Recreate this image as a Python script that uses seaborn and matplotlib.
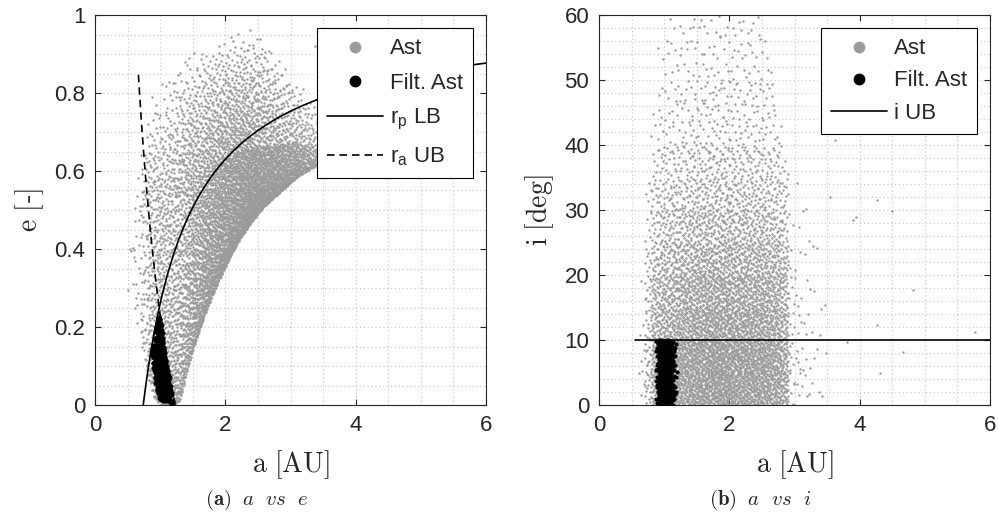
import numpy as np
import pandas as pd
import matplotlib
matplotlib.use("Agg")
import matplotlib.pyplot as plt
from matplotlib.lines import Line2D
from matplotlib.ticker import MultipleLocator, FuncFormatter
import seaborn as sns

# ---------------- a-e plane: asteroid cloud, described per a-slice ----------------
# band edges (eccentricity) at each a knot; counts of asteroids per slice
AE_KNOTS = [0.5, 0.6, 0.7, 0.8, 0.9, 1.0, 1.1, 1.2, 1.3, 1.4, 1.5, 1.6, 1.7, 1.8, 1.9,
            2.0, 2.1, 2.2, 2.3, 2.4, 2.5, 2.6, 2.7, 2.8, 2.9, 3.0, 3.1, 3.2, 3.3, 3.4,
            3.5, 3.6, 3.7, 3.8]
AE_LO = [0.30, 0.25, 0.17, 0.08, 0.02, 0.00, 0.00, 0.00, 0.01, 0.08, 0.14, 0.19, 0.24,
         0.28, 0.32, 0.355, 0.39, 0.42, 0.445, 0.47, 0.49, 0.51, 0.525, 0.54, 0.555,
         0.57, 0.585, 0.595, 0.605, 0.615, 0.63, 0.645, 0.66, 0.68]
AE_MID = [0.30, 0.40, 0.48, 0.52, 0.52, 0.50, 0.50, 0.52, 0.55, 0.57, 0.58, 0.59, 0.60,
          0.61, 0.62, 0.63, 0.64, 0.65, 0.655, 0.66, 0.66, 0.665, 0.665, 0.67, 0.67,
          0.67, 0.67, 0.67, 0.67, 0.67, 0.68, 0.69, 0.70, 0.72]
AE_HI = [0.40, 0.58, 0.68, 0.76, 0.81, 0.84, 0.87, 0.89, 0.90, 0.91, 0.92, 0.93, 0.935,
         0.94, 0.95, 0.955, 0.96, 0.965, 0.97, 0.97, 0.97, 0.96, 0.93, 0.90, 0.88, 0.86,
         0.84, 0.82, 0.80, 0.79, 0.78, 0.76, 0.75, 0.74]
AE_N_CORE = [2, 10, 45, 110, 150, 160, 170, 190, 210, 230, 250, 260, 270, 270, 270, 265,
             255, 245, 230, 215, 195, 175, 155, 135, 115, 95, 75, 55, 40, 22, 8, 3, 1]
AE_N_HALO = [3, 8, 18, 30, 38, 42, 48, 52, 58, 62, 66, 70, 74, 78, 80, 82, 82, 80, 78,
             74, 68, 60, 52, 45, 38, 32, 26, 20, 15, 10, 6, 3, 2]
AE_EXTRA_A = [3.38, 3.44, 0.58, 0.62]
AE_EXTRA_E = [0.92, 0.905, 0.31, 0.37]

# filtered asteroids (a-e plane)
FILT_KNOTS = [0.87, 0.91, 0.95, 1.00, 1.05, 1.10, 1.15, 1.19]
FILT_E_LO = [0.13, 0.07, 0.03, 0.01, 0.01, 0.01, 0.00, 0.00]
FILT_E_HI = [0.14, 0.17, 0.22, 0.24, 0.17, 0.11, 0.07, 0.03]
FILT_N = [15, 55, 95, 95, 65, 40, 12]

# ---------------- a-i plane ----------------
AI_KNOTS = [0.6, 0.7, 0.8, 0.9, 1.0, 1.1, 1.2, 1.3, 1.4, 1.5, 1.6, 1.7, 1.8, 1.9, 2.0,
            2.1, 2.2, 2.3, 2.4, 2.5, 2.6, 2.7, 2.8, 2.9, 3.0, 3.1, 3.2, 3.3, 3.4, 3.5]
AI_N = [15, 70, 170, 200, 210, 230, 250, 265, 280, 290, 300, 305, 305, 300, 295, 290,
        285, 280, 275, 265, 250, 235, 190, 30, 20, 14, 10, 7, 5]
AI_TOP = [20, 35, 45, 55, 60, 60, 60, 60, 60, 60, 60, 60, 60, 60, 60, 60, 60, 60, 60,
          58, 52, 45, 38, 30, 35, 40, 40, 40, 40]
I_BAND_EDGES = [0, 5, 10, 15, 20, 25, 30, 35, 40, 50, 60]
I_BAND_SHARE = [0.20, 0.20, 0.16, 0.13, 0.10, 0.07, 0.05, 0.035, 0.035, 0.02]
AI_EXTRA_A = [3.54, 3.62, 3.80, 3.90, 3.95, 4.26, 4.26, 4.31, 4.49, 4.67, 4.82, 5.77]
AI_EXTRA_I = [32.0, 40.8, 9.7, 28.5, 29.0, 31.5, 12.3, 4.9, 29.9, 8.2, 17.7, 11.3]

# filter bounds
RP_LB = 0.74      # perihelion lower bound [AU]
RA_UB = 1.23      # aphelion upper bound [AU]
RA_E_MAX = 0.85
I_UB = 10.0       # inclination upper bound [deg]
I_UB_A_MIN = 0.56

GREY = "#9a9a9a"


def halton(idx, base):
    """Radical-inverse of integer indices in the given base."""
    idx = np.asarray(idx, dtype=np.int64).copy()
    out = np.zeros(idx.shape, dtype=float)
    f = 1.0
    while np.any(idx > 0):
        f /= base
        out += f * (idx % base)
        idx //= base
    return out


_counter = [10007]


def fill_slice(n):
    """Evenly spread n positions over the unit square (Halton 2/3 points)."""
    idx = np.arange(_counter[0], _counter[0] + n)
    _counter[0] += n
    return halton(idx, 2), halton(idx, 3)


def lerp(x0, x1, t):
    return x0 + (x1 - x0) * t


# --- build a-e cloud
ae_a, ae_e = [], []
for k in range(len(AE_KNOTS) - 1):
    a0, a1 = AE_KNOTS[k], AE_KNOTS[k + 1]
    u, v = fill_slice(AE_N_CORE[k])
    lo = lerp(AE_LO[k], AE_LO[k + 1], u)
    mid = lerp(AE_MID[k], AE_MID[k + 1], u)
    ae_a.append(lerp(a0, a1, u))
    ae_e.append(lo + (mid - lo) * v ** 1.4)
    u, v = fill_slice(AE_N_HALO[k])
    mid = lerp(AE_MID[k], AE_MID[k + 1], u)
    hi = lerp(AE_HI[k], AE_HI[k + 1], u)
    ae_a.append(lerp(a0, a1, u))
    ae_e.append(mid + (hi - mid) * (1 - np.sqrt(1 - v)))
ae = pd.DataFrame({"a": np.concatenate(ae_a + [np.array(AE_EXTRA_A)]),
                   "e": np.concatenate(ae_e + [np.array(AE_EXTRA_E)])})

# --- filtered asteroids, both planes
fa, fe, fi = [], [], []
for k in range(len(FILT_KNOTS) - 1):
    a0, a1 = FILT_KNOTS[k], FILT_KNOTS[k + 1]
    u, v = fill_slice(FILT_N[k])
    lo = lerp(FILT_E_LO[k], FILT_E_LO[k + 1], u)
    hi = lerp(FILT_E_HI[k], FILT_E_HI[k + 1], u)
    fa.append(lerp(a0, a1, u))
    fe.append(lo + (hi - lo) * v)
    _, w = fill_slice(FILT_N[k])
    fi.append(I_UB * w)
filt = pd.DataFrame({"a": np.concatenate(fa), "e": np.concatenate(fe),
                     "i": np.concatenate(fi)})

# --- a-i cloud
ai_a, ai_i = [], []
for k in range(len(AI_KNOTS) - 1):
    a0, a1 = AI_KNOTS[k], AI_KNOTS[k + 1]
    for b, share in enumerate(I_BAND_SHARE):
        lo_i, hi_i = I_BAND_EDGES[b], min(I_BAND_EDGES[b + 1], AI_TOP[k])
        if hi_i <= lo_i:
            continue
        n = int(round(AI_N[k] * share * (hi_i - lo_i) / (I_BAND_EDGES[b + 1] - lo_i)))
        u, v = fill_slice(n)
        ai_a.append(lerp(a0, a1, u))
        ai_i.append(lerp(lo_i, hi_i, v))
ai = pd.DataFrame({"a": np.concatenate(ai_a + [np.array(AI_EXTRA_A)]),
                   "i": np.concatenate(ai_i + [np.array(AI_EXTRA_I)])})

# --- bound curves
a_rp = np.linspace(RP_LB, 6.0, 300)
rp_curve = pd.DataFrame({"a": a_rp, "e": 1 - RP_LB / a_rp})
e_ra = np.linspace(0.0, RA_E_MAX, 100)
ra_curve = pd.DataFrame({"a": RA_UB / (1 + e_ra), "e": e_ra})
iub_line = pd.DataFrame({"a": [I_UB_A_MIN, 6.0], "i": [I_UB, I_UB]})

# ---------------- figure ----------------
sns.set_style("ticks")
plt.rcParams["font.family"] = ["Liberation Sans", "DejaVu Sans"]
plt.rcParams["mathtext.fontset"] = "custom"
plt.rcParams["mathtext.rm"] = "Liberation Sans"
plt.rcParams["mathtext.it"] = "Liberation Sans:italic"
plt.rcParams["mathtext.bf"] = "Liberation Sans:bold"
plt.rcParams["mathtext.sf"] = "Liberation Sans"

fig = plt.figure(figsize=(9.98, 5.22), dpi=100)
ax1 = fig.add_axes([95 / 998, 117 / 522, 391 / 998, 390 / 522])
ax2 = fig.add_axes([599 / 998, 117 / 522, 391 / 998, 390 / 522])

GRID_KW = dict(color="#c4c4c4", linestyle=(0, (1, 2.5)), linewidth=0.8)
fmt = FuncFormatter(lambda v, p: f"{v:g}")
DASH = (0, (4.5, 3))

# left panel: a vs e
sns.scatterplot(data=ae, x="a", y="e", ax=ax1, s=3, color=GREY, linewidth=0,
                legend=False, zorder=2)
sns.scatterplot(data=filt, x="a", y="e", ax=ax1, s=9, color="black", linewidth=0,
                legend=False, zorder=3)
sns.lineplot(data=rp_curve, x="a", y="e", ax=ax1, color="black", lw=1.2,
             estimator=None, sort=False, zorder=4)
sns.lineplot(data=ra_curve, x="a", y="e", ax=ax1, color="black", lw=1.2,
             estimator=None, sort=False, zorder=4, linestyle=DASH)
ax1.set_xlim(0, 6)
ax1.set_ylim(0, 1)
ax1.xaxis.set_major_locator(MultipleLocator(2))
ax1.xaxis.set_minor_locator(MultipleLocator(0.5))
ax1.yaxis.set_major_locator(MultipleLocator(0.2))
ax1.yaxis.set_minor_locator(MultipleLocator(0.05))

# right panel: a vs i
sns.scatterplot(data=ai, x="a", y="i", ax=ax2, s=3, color=GREY, linewidth=0,
                legend=False, zorder=2)
sns.scatterplot(data=filt, x="a", y="i", ax=ax2, s=9, color="black", linewidth=0,
                legend=False, zorder=3)
sns.lineplot(data=iub_line, x="a", y="i", ax=ax2, color="black", lw=1.2,
             estimator=None, sort=False, zorder=4)
ax2.set_xlim(0, 6)
ax2.set_ylim(0, 60)
ax2.xaxis.set_major_locator(MultipleLocator(2))
ax2.xaxis.set_minor_locator(MultipleLocator(0.5))
ax2.yaxis.set_major_locator(MultipleLocator(10))
ax2.yaxis.set_minor_locator(MultipleLocator(2))

for ax in (ax1, ax2):
    ax.set_axisbelow(True)
    ax.grid(True, which="both", **GRID_KW)
    ax.tick_params(which="major", direction="in", length=4, width=0.8,
                   top=True, right=True, labelsize=16, pad=7, colors="#262626")
    ax.tick_params(which="minor", length=0)
    ax.xaxis.set_major_formatter(fmt)
    ax.yaxis.set_major_formatter(fmt)
    for sp in ax.spines.values():
        sp.set_visible(True)
        sp.set_linewidth(0.8)
        sp.set_color("#262626")
    ax.set_xlabel(r"$\mathrm{a\ [AU]}$", fontsize=20, math_fontfamily="cm", labelpad=9)

ax1.set_ylabel(r"$\mathrm{e\ [}$-$\mathrm{]}$", fontsize=20, math_fontfamily="cm",
               labelpad=6)
ax2.set_ylabel(r"$\mathrm{i\ [deg]}$", fontsize=20, math_fontfamily="cm", labelpad=6)

# legends
h_ast = Line2D([], [], marker="o", linestyle="none", color=GREY, markersize=7.5)
h_filt = Line2D([], [], marker="o", linestyle="none", color="black", markersize=7.5)
h_rp = Line2D([], [], color="black", lw=1.2)
h_ra = Line2D([], [], color="black", lw=1.2, linestyle=DASH)
LEG_KW = dict(loc="upper right", fontsize=16, frameon=True, fancybox=False,
              edgecolor="black", framealpha=1, borderaxespad=0.6,
              handlelength=2.5, handletextpad=0.3, borderpad=0.45)
leg1 = ax1.legend([h_ast, h_filt, h_rp, h_ra],
                  ["Ast", "Filt. Ast", r"r$_\mathrm{p}$ LB", r"r$_\mathrm{a}$ UB"],
                  labelspacing=0.6, **LEG_KW)
leg2 = ax2.legend([h_ast, h_filt, h_rp], ["Ast", "Filt. Ast", "i UB"],
                  labelspacing=0.5, **LEG_KW)
for lg in (leg1, leg2):
    lg.get_frame().set_linewidth(0.8)
    lg.set_zorder(10)

# sub-figure captions
fig.text(257 / 998, 1 - 500 / 522, r"$\mathbf{(a)}\;\ a\ \ vs\ \ e$", ha="center",
         va="center", fontsize=15, math_fontfamily="cm")
fig.text(760 / 998, 1 - 500 / 522, r"$\mathbf{(b)}\;\ a\ \ vs\ \ i$", ha="center",
         va="center", fontsize=15, math_fontfamily="cm")

fig.savefig("out.png", dpi=100)
